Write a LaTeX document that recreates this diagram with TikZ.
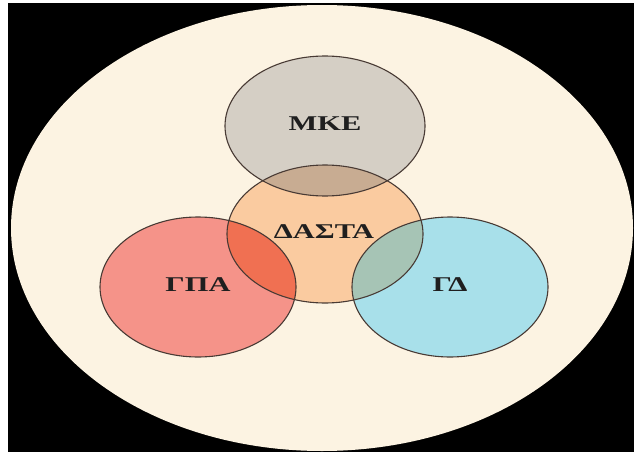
\documentclass[tikz,border=0pt]{standalone}
\usepackage{fontspec}
\setmainfont{Liberation Serif}
\definecolor{cream}{RGB}{252,243,226}
\definecolor{greyfill}{RGB}{213,207,197}
\definecolor{orangefill}{RGB}{250,203,160}
\definecolor{salmonfill}{RGB}{245,147,137}
\definecolor{cyanfill}{RGB}{168,224,234}
\definecolor{greyorange}{RGB}{200,172,146}
\definecolor{redorange}{RGB}{240,112,82}
\definecolor{cyanorange}{RGB}{166,196,181}
\definecolor{rimline}{RGB}{72,58,52}
\tikzset{
  rim/.style={draw=rimline, line width=1.1pt},
  lbl/.style={font=\fontsize{21}{21}\selectfont\bfseries, text=black!88, inner sep=0pt}
}
\newcommand{\wide}[1]{\scalebox{1.45}[1]{#1}}
\begin{document}
\begin{tikzpicture}[x=1pt,y=-1pt]
\useasboundingbox (0,0) rectangle (634,452);
\fill[white] (0,0) rectangle (634,452);
\fill[black] (8,3) rectangle (634,452);
\fill[cream] (322,228) ellipse [x radius=311, y radius=223];
% base fills
\fill[greyfill]   (325,126) ellipse [x radius=100, y radius=70];
\fill[orangefill] (325,234) ellipse [x radius=98, y radius=69];
\fill[salmonfill] (198,287) ellipse [x radius=98, y radius=70];
\fill[cyanfill]   (450,287) ellipse [x radius=98, y radius=70];
% overlaps
\begin{scope}
  \clip (325,234) ellipse [x radius=98, y radius=69];
  \fill[greyorange] (325,126) ellipse [x radius=100, y radius=70];
  \fill[redorange]  (198,287) ellipse [x radius=98, y radius=70];
  \fill[cyanorange] (450,287) ellipse [x radius=98, y radius=70];
\end{scope}
% outlines
\draw[rim] (325,126) ellipse [x radius=100, y radius=70];
\draw[rim] (325,234) ellipse [x radius=98, y radius=69];
\draw[rim] (198,287) ellipse [x radius=98, y radius=70];
\draw[rim] (450,287) ellipse [x radius=98, y radius=70];
% labels
\node[lbl] (mke)   at (325,124) {\wide{ΜΚΕ}};
\node[lbl] (dasta) at (324,232) {\wide{ΔΑΣΤΑ}};
\node[lbl] (gpa)   at (198,285) {\wide{ΓΠΑ}};
\node[lbl] (gd)    at (450,285) {\wide{ΓΔ}};
\end{tikzpicture}
\end{document}
